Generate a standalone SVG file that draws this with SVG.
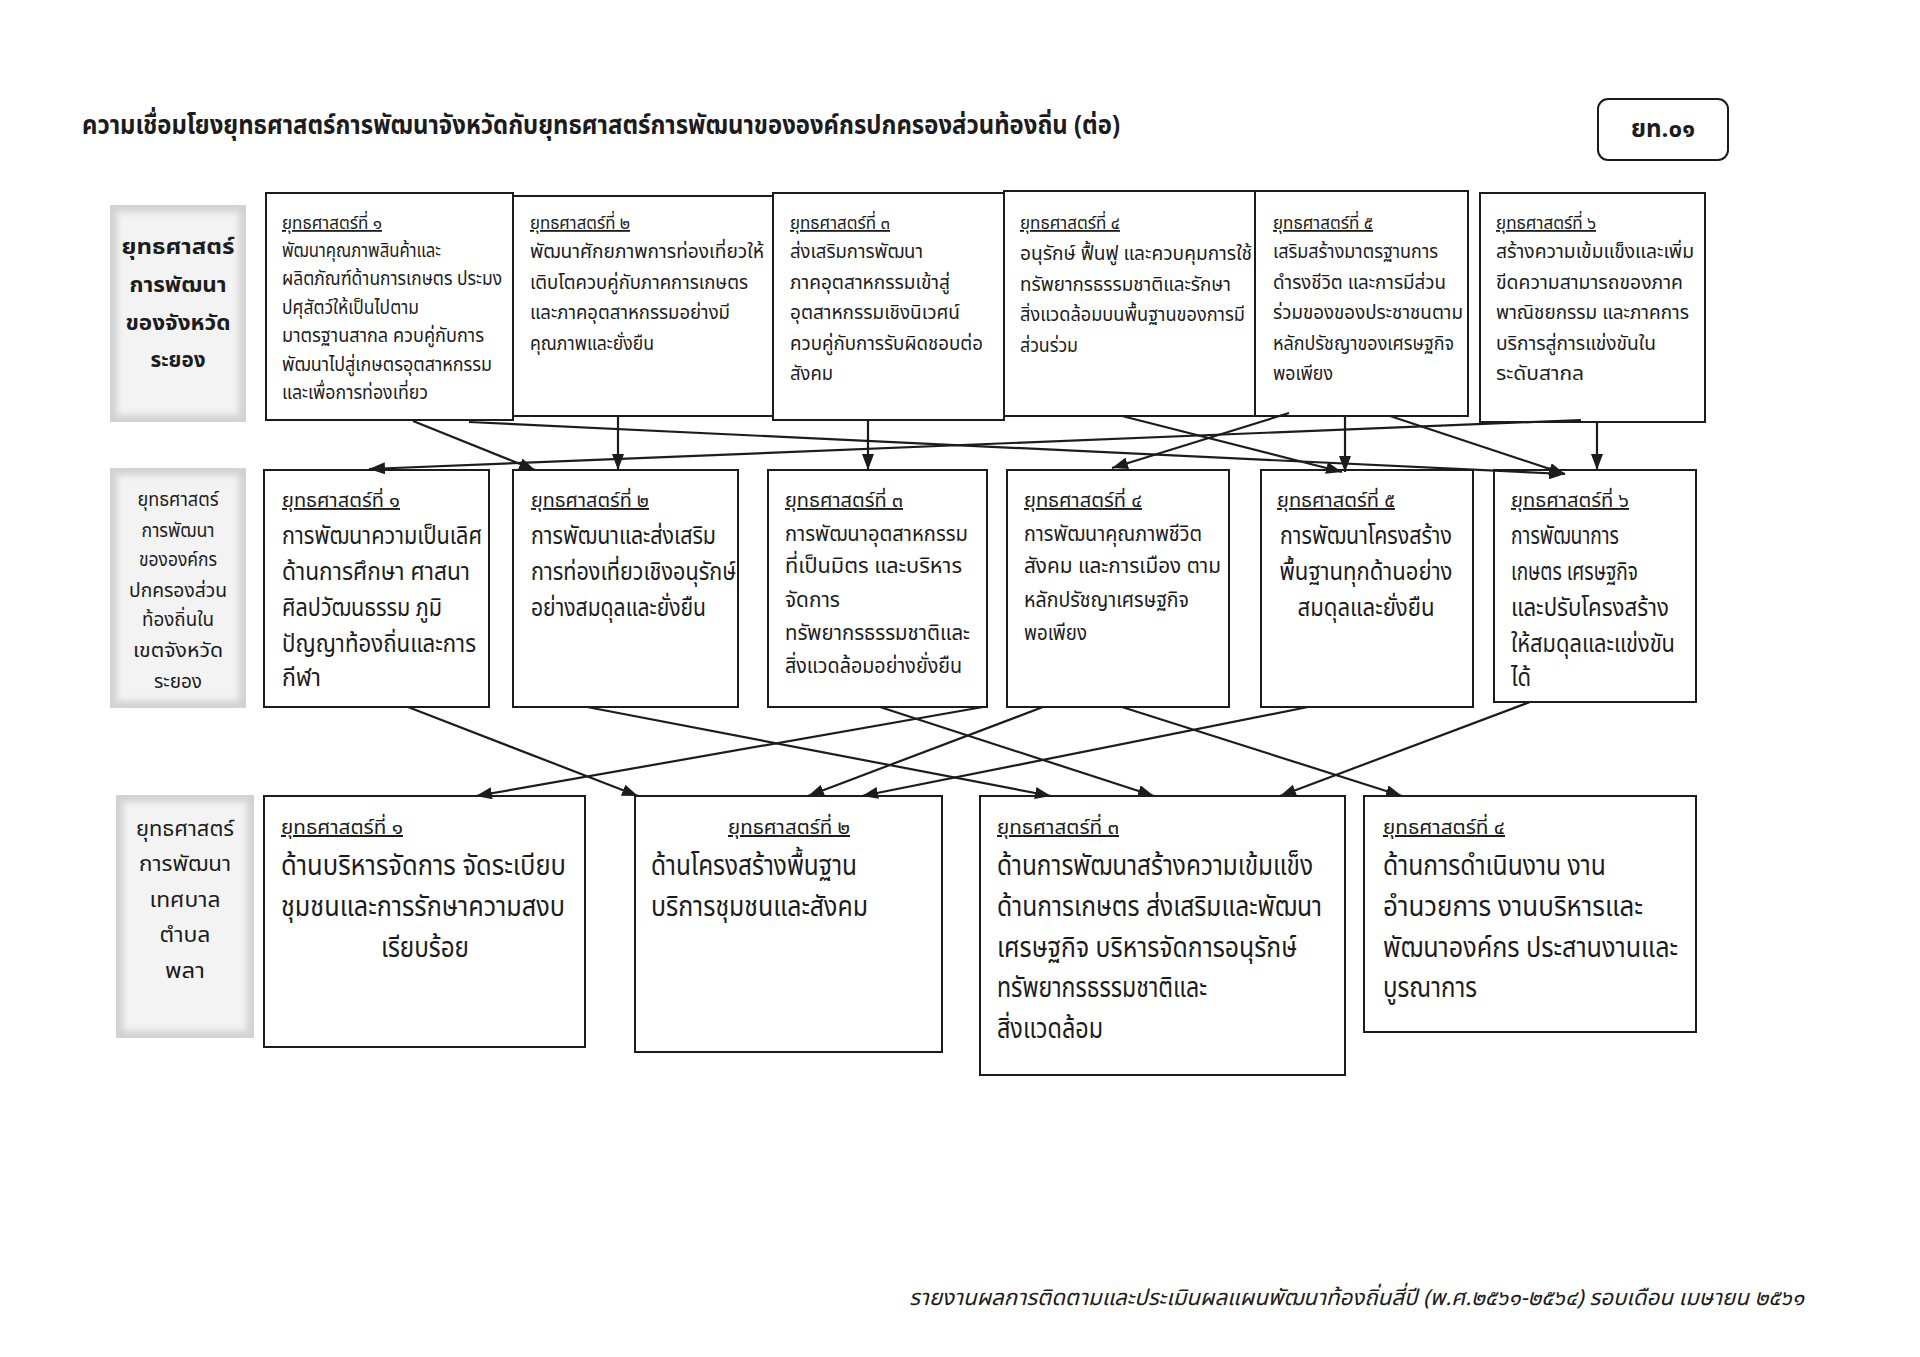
<svg xmlns="http://www.w3.org/2000/svg" width="1920" height="1357" viewBox="0 0 1920 1357">
<style>
text{font-family:'Noto Sans Thai','Noto Sans','DejaVu Sans',sans-serif;fill:#1c1c1c}
.box{fill:#fff;stroke:#1c1c1c;stroke-width:2}
.conn{stroke:#1c1c1c;stroke-width:2.2;fill:none;marker-end:url(#ah)}
.hd{text-decoration:underline}
.b1{font-size:19px}
.h1{font-size:18px}
.b2{font-size:24px}
.b2s{font-size:22px}
.h2{font-size:19px}
.b3{font-size:28px}
.h3{font-size:20px}
.lab1{font-size:22px;font-weight:bold}
.lab2{font-size:20px}
.lab3{font-size:22px}
.outer{fill:#d2d2d2}
.inner{fill:#f3f3f3;filter:url(#soft)}
</style>
<defs>
<marker id="ah" viewBox="0 0 16 12" refX="16" refY="6" markerWidth="16" markerHeight="12" markerUnits="userSpaceOnUse" orient="auto">
<path d="M0,0 L16,6 L0,12 z" fill="#1c1c1c"/>
</marker>
<filter id="soft" x="-10%" y="-10%" width="120%" height="120%"><feGaussianBlur stdDeviation="3"/></filter>
</defs>
<rect width="1920" height="1357" fill="#fff"/>

<g id="title">
<text x="82" y="134" font-size="26" font-weight="bold" textLength="1038" lengthAdjust="spacingAndGlyphs">ความเชื่อมโยงยุทธศาสตร์การพัฒนาจังหวัดกับยุทธศาสตร์การพัฒนาขององค์กรปกครองส่วนท้องถิ่น (ต่อ)</text>
</g>
<g id="badge">
<rect x="1598" y="99" width="130" height="61" rx="10" fill="#fff" stroke="#1c1c1c" stroke-width="2"/>
<text x="1663" y="137" font-size="24" font-weight="bold" text-anchor="middle" textLength="64" lengthAdjust="spacingAndGlyphs">ยท.๐๑</text>
</g>

<!-- Row labels -->
<g id="label-row1">
<rect class="outer" x="110" y="205" width="136" height="217"/>
<rect class="inner" x="117" y="212" width="122" height="203"/>
<text class="lab1" text-anchor="middle" x="178" y="254" textLength="113" lengthAdjust="spacingAndGlyphs">ยุทธศาสตร์</text>
<text class="lab1" text-anchor="middle" x="178" y="292" textLength="97" lengthAdjust="spacingAndGlyphs">การพัฒนา</text>
<text class="lab1" text-anchor="middle" x="178" y="330" textLength="105" lengthAdjust="spacingAndGlyphs">ของจังหวัด</text>
<text class="lab1" text-anchor="middle" x="178" y="367" textLength="55" lengthAdjust="spacingAndGlyphs">ระยอง</text>
</g>
<g id="label-row2">
<rect class="outer" x="110" y="468" width="136" height="240"/>
<rect class="inner" x="117" y="475" width="122" height="226"/>
<text class="lab2" text-anchor="middle" x="178" y="506" textLength="81" lengthAdjust="spacingAndGlyphs">ยุทธศาสตร์</text>
<text class="lab2" text-anchor="middle" x="178" y="537" textLength="73" lengthAdjust="spacingAndGlyphs">การพัฒนา</text>
<text class="lab2" text-anchor="middle" x="178" y="566" textLength="78" lengthAdjust="spacingAndGlyphs">ขององค์กร</text>
<text class="lab2" text-anchor="middle" x="178" y="597" textLength="98" lengthAdjust="spacingAndGlyphs">ปกครองส่วน</text>
<text class="lab2" text-anchor="middle" x="178" y="626" textLength="72" lengthAdjust="spacingAndGlyphs">ท้องถิ่นใน</text>
<text class="lab2" text-anchor="middle" x="178" y="657" textLength="90" lengthAdjust="spacingAndGlyphs">เขตจังหวัด</text>
<text class="lab2" text-anchor="middle" x="178" y="688" textLength="48" lengthAdjust="spacingAndGlyphs">ระยอง</text>
</g>
<g id="label-row3">
<rect class="outer" x="116" y="795" width="138" height="243"/>
<rect class="inner" x="123" y="802" width="124" height="229"/>
<text class="lab3" text-anchor="middle" x="185" y="836" textLength="98" lengthAdjust="spacingAndGlyphs">ยุทธศาสตร์</text>
<text class="lab3" text-anchor="middle" x="185" y="871" textLength="92" lengthAdjust="spacingAndGlyphs">การพัฒนา</text>
<text class="lab3" text-anchor="middle" x="185" y="907" textLength="71" lengthAdjust="spacingAndGlyphs">เทศบาล</text>
<text class="lab3" text-anchor="middle" x="185" y="942" textLength="51" lengthAdjust="spacingAndGlyphs">ตำบล</text>
<text class="lab3" text-anchor="middle" x="185" y="978" textLength="40" lengthAdjust="spacingAndGlyphs">พลา</text>
</g>

<!-- Row 1 : provincial strategies -->
<g id="p1">
<rect class="box" x="266" y="193" width="247" height="227"/>
<text class="h1 hd" x="282" y="229" textLength="100" lengthAdjust="spacingAndGlyphs">ยุทธศาสตร์ที่ ๑</text>
<text class="b1" x="282" y="257" textLength="159" lengthAdjust="spacingAndGlyphs">พัฒนาคุณภาพสินค้าและ</text>
<text class="b1" x="282" y="285.4" textLength="220" lengthAdjust="spacingAndGlyphs">ผลิตภัณฑ์ด้านการเกษตร ประมง</text>
<text class="b1" x="282" y="313.8" textLength="137" lengthAdjust="spacingAndGlyphs">ปศุสัตว์ให้เป็นไปตาม</text>
<text class="b1" x="282" y="342.2" textLength="202" lengthAdjust="spacingAndGlyphs">มาตรฐานสากล ควบคู่กับการ</text>
<text class="b1" x="282" y="370.6" textLength="210" lengthAdjust="spacingAndGlyphs">พัฒนาไปสู่เกษตรอุตสาหกรรม</text>
<text class="b1" x="282" y="399" textLength="146" lengthAdjust="spacingAndGlyphs">และเพื่อการท่องเที่ยว</text>
</g>
<g id="p2">
<rect class="box" x="513" y="196" width="260" height="220"/>
<text class="h1 hd" x="530" y="229" textLength="100" lengthAdjust="spacingAndGlyphs">ยุทธศาสตร์ที่ ๒</text>
<text class="b1" x="530" y="258" textLength="234" lengthAdjust="spacingAndGlyphs">พัฒนาศักยภาพการท่องเที่ยวให้</text>
<text class="b1" x="530" y="288.5" textLength="218" lengthAdjust="spacingAndGlyphs">เติบโตควบคู่กับภาคการเกษตร</text>
<text class="b1" x="530" y="319" textLength="200" lengthAdjust="spacingAndGlyphs">และภาคอุตสาหกรรมอย่างมี</text>
<text class="b1" x="530" y="349.5" textLength="124" lengthAdjust="spacingAndGlyphs">คุณภาพและยั่งยืน</text>
</g>
<g id="p3">
<rect class="box" x="773" y="193" width="231" height="227"/>
<text class="h1 hd" x="790" y="229" textLength="100" lengthAdjust="spacingAndGlyphs">ยุทธศาสตร์ที่ ๓</text>
<text class="b1" x="790" y="258" textLength="133" lengthAdjust="spacingAndGlyphs">ส่งเสริมการพัฒนา</text>
<text class="b1" x="790" y="288.5" textLength="160" lengthAdjust="spacingAndGlyphs">ภาคอุตสาหกรรมเข้าสู่</text>
<text class="b1" x="790" y="319" textLength="170" lengthAdjust="spacingAndGlyphs">อุตสาหกรรมเชิงนิเวศน์</text>
<text class="b1" x="790" y="349.5" textLength="193" lengthAdjust="spacingAndGlyphs">ควบคู่กับการรับผิดชอบต่อ</text>
<text class="b1" x="790" y="380" textLength="43" lengthAdjust="spacingAndGlyphs">สังคม</text>
</g>
<g id="p4">
<rect class="box" x="1004" y="191" width="251" height="225"/>
<text class="h1 hd" x="1020" y="229" textLength="100" lengthAdjust="spacingAndGlyphs">ยุทธศาสตร์ที่ ๔</text>
<text class="b1" x="1020" y="260" textLength="232" lengthAdjust="spacingAndGlyphs">อนุรักษ์ ฟื้นฟู และควบคุมการใช้</text>
<text class="b1" x="1020" y="290.5" textLength="211" lengthAdjust="spacingAndGlyphs">ทรัพยากรธรรมชาติและรักษา</text>
<text class="b1" x="1020" y="321" textLength="225" lengthAdjust="spacingAndGlyphs">สิ่งแวดล้อมบนพื้นฐานของการมี</text>
<text class="b1" x="1020" y="351.5" textLength="58" lengthAdjust="spacingAndGlyphs">ส่วนร่วม</text>
</g>
<g id="p5">
<rect class="box" x="1255" y="191" width="213" height="225"/>
<text class="h1 hd" x="1273" y="229" textLength="100" lengthAdjust="spacingAndGlyphs">ยุทธศาสตร์ที่ ๕</text>
<text class="b1" x="1273" y="258" textLength="165" lengthAdjust="spacingAndGlyphs">เสริมสร้างมาตรฐานการ</text>
<text class="b1" x="1273" y="288.5" textLength="173" lengthAdjust="spacingAndGlyphs">ดำรงชีวิต และการมีส่วน</text>
<text class="b1" x="1273" y="319" textLength="190" lengthAdjust="spacingAndGlyphs">ร่วมของของประชาชนตาม</text>
<text class="b1" x="1273" y="349.5" textLength="181" lengthAdjust="spacingAndGlyphs">หลักปรัชญาของเศรษฐกิจ</text>
<text class="b1" x="1273" y="380" textLength="60" lengthAdjust="spacingAndGlyphs">พอเพียง</text>
</g>
<g id="p6">
<rect class="box" x="1480" y="193" width="225" height="229"/>
<text class="h1 hd" x="1496" y="229" textLength="100" lengthAdjust="spacingAndGlyphs">ยุทธศาสตร์ที่ ๖</text>
<text class="b1" x="1496" y="258" textLength="198" lengthAdjust="spacingAndGlyphs">สร้างความเข้มแข็งและเพิ่ม</text>
<text class="b1" x="1496" y="288.5" textLength="187" lengthAdjust="spacingAndGlyphs">ขีดความสามารถของภาค</text>
<text class="b1" x="1496" y="319" textLength="193" lengthAdjust="spacingAndGlyphs">พาณิชยกรรม และภาคการ</text>
<text class="b1" x="1496" y="349.5" textLength="160" lengthAdjust="spacingAndGlyphs">บริการสู่การแข่งขันใน</text>
<text class="b1" x="1496" y="380" textLength="88" lengthAdjust="spacingAndGlyphs">ระดับสากล</text>
</g>

<!-- Row 2 : local government strategies -->
<g id="l1">
<rect class="box" x="264" y="470" width="225" height="237"/>
<text class="h2 hd" x="282" y="507" textLength="118" lengthAdjust="spacingAndGlyphs">ยุทธศาสตร์ที่ ๑</text>
<text class="b2" x="282" y="544" textLength="200" lengthAdjust="spacingAndGlyphs">การพัฒนาความเป็นเลิศ</text>
<text class="b2" x="282" y="580" textLength="188" lengthAdjust="spacingAndGlyphs">ด้านการศึกษา ศาสนา</text>
<text class="b2" x="282" y="616" textLength="160" lengthAdjust="spacingAndGlyphs">ศิลปวัฒนธรรม ภูมิ</text>
<text class="b2" x="282" y="652" textLength="194" lengthAdjust="spacingAndGlyphs">ปัญญาท้องถิ่นและการ</text>
<text class="b2" x="282" y="686" textLength="39" lengthAdjust="spacingAndGlyphs">กีฬา</text>
</g>
<g id="l2">
<rect class="box" x="513" y="470" width="225" height="237"/>
<text class="h2 hd" x="531" y="507" textLength="118" lengthAdjust="spacingAndGlyphs">ยุทธศาสตร์ที่ ๒</text>
<text class="b2" x="531" y="544" textLength="185" lengthAdjust="spacingAndGlyphs">การพัฒนาและส่งเสริม</text>
<text class="b2" x="531" y="580" textLength="205" lengthAdjust="spacingAndGlyphs">การท่องเที่ยวเชิงอนุรักษ์</text>
<text class="b2" x="531" y="616" textLength="175" lengthAdjust="spacingAndGlyphs">อย่างสมดุลและยั่งยืน</text>
</g>
<g id="l3">
<rect class="box" x="768" y="470" width="219" height="237"/>
<text class="h2 hd" x="785" y="507" textLength="118" lengthAdjust="spacingAndGlyphs">ยุทธศาสตร์ที่ ๓</text>
<text class="b2s" x="785" y="541" textLength="183" lengthAdjust="spacingAndGlyphs">การพัฒนาอุตสาหกรรม</text>
<text class="b2s" x="785" y="573" textLength="177" lengthAdjust="spacingAndGlyphs">ที่เป็นมิตร และบริหาร</text>
<text class="b2s" x="785" y="607" textLength="55" lengthAdjust="spacingAndGlyphs">จัดการ</text>
<text class="b2s" x="785" y="640" textLength="185" lengthAdjust="spacingAndGlyphs">ทรัพยากรธรรมชาติและ</text>
<text class="b2s" x="785" y="673" textLength="177" lengthAdjust="spacingAndGlyphs">สิ่งแวดล้อมอย่างยั่งยืน</text>
</g>
<g id="l4">
<rect class="box" x="1007" y="470" width="222" height="237"/>
<text class="h2 hd" x="1024" y="507" textLength="118" lengthAdjust="spacingAndGlyphs">ยุทธศาสตร์ที่ ๔</text>
<text class="b2s" x="1024" y="541" textLength="178" lengthAdjust="spacingAndGlyphs">การพัฒนาคุณภาพชีวิต</text>
<text class="b2s" x="1024" y="573" textLength="197" lengthAdjust="spacingAndGlyphs">สังคม  และการเมือง ตาม</text>
<text class="b2s" x="1024" y="607" textLength="165" lengthAdjust="spacingAndGlyphs">หลักปรัชญาเศรษฐกิจ</text>
<text class="b2s" x="1024" y="640" textLength="63" lengthAdjust="spacingAndGlyphs">พอเพียง</text>
</g>
<g id="l5">
<rect class="box" x="1261" y="470" width="212" height="237"/>
<text class="h2 hd" x="1277" y="507" textLength="118" lengthAdjust="spacingAndGlyphs">ยุทธศาสตร์ที่ ๕</text>
<text class="b2" x="1366" y="544" text-anchor="middle" textLength="172" lengthAdjust="spacingAndGlyphs">การพัฒนาโครงสร้าง</text>
<text class="b2" x="1366" y="580" text-anchor="middle" textLength="173" lengthAdjust="spacingAndGlyphs">พื้นฐานทุกด้านอย่าง</text>
<text class="b2" x="1366" y="616" text-anchor="middle" textLength="137" lengthAdjust="spacingAndGlyphs">สมดุลและยั่งยืน</text>
</g>
<g id="l6">
<rect class="box" x="1494" y="470" width="202" height="232"/>
<text class="h2 hd" x="1511" y="507" textLength="118" lengthAdjust="spacingAndGlyphs">ยุทธศาสตร์ที่ ๖</text>
<text class="b2" x="1511" y="544" textLength="108" lengthAdjust="spacingAndGlyphs">การพัฒนาการ</text>
<text class="b2" x="1511" y="580" textLength="127" lengthAdjust="spacingAndGlyphs">เกษตร เศรษฐกิจ</text>
<text class="b2" x="1511" y="616" textLength="158" lengthAdjust="spacingAndGlyphs">และปรับโครงสร้าง</text>
<text class="b2" x="1511" y="652" textLength="164" lengthAdjust="spacingAndGlyphs">ให้สมดุลและแข่งขัน</text>
<text class="b2" x="1511" y="686" textLength="20" lengthAdjust="spacingAndGlyphs">ได้</text>
</g>

<!-- Row 3 : municipality strategies -->
<g id="m1">
<rect class="box" x="264" y="796" width="321" height="251"/>
<text class="h3 hd" x="281" y="834" textLength="122" lengthAdjust="spacingAndGlyphs">ยุทธศาสตร์ที่ ๑</text>
<text class="b3" x="281" y="875" textLength="285" lengthAdjust="spacingAndGlyphs">ด้านบริหารจัดการ จัดระเบียบ</text>
<text class="b3" x="281" y="916" textLength="284" lengthAdjust="spacingAndGlyphs">ชุมชนและการรักษาความสงบ</text>
<text class="b3" x="425" y="957" text-anchor="middle" textLength="88" lengthAdjust="spacingAndGlyphs">เรียบร้อย</text>
</g>
<g id="m2">
<rect class="box" x="635" y="796" width="307" height="256"/>
<text class="h3 hd" x="789" y="834" text-anchor="middle" textLength="122" lengthAdjust="spacingAndGlyphs">ยุทธศาสตร์ที่ ๒</text>
<text class="b3" x="651" y="875" textLength="206" lengthAdjust="spacingAndGlyphs">ด้านโครงสร้างพื้นฐาน</text>
<text class="b3" x="651" y="916" textLength="217" lengthAdjust="spacingAndGlyphs">บริการชุมชนและสังคม</text>
</g>
<g id="m3">
<rect class="box" x="980" y="796" width="365" height="279"/>
<text class="h3 hd" x="997" y="834" textLength="122" lengthAdjust="spacingAndGlyphs">ยุทธศาสตร์ที่ ๓</text>
<text class="b3" x="997" y="875" textLength="316" lengthAdjust="spacingAndGlyphs">ด้านการพัฒนาสร้างความเข้มแข็ง</text>
<text class="b3" x="997" y="916" textLength="325" lengthAdjust="spacingAndGlyphs">ด้านการเกษตร ส่งเสริมและพัฒนา</text>
<text class="b3" x="997" y="957" textLength="300" lengthAdjust="spacingAndGlyphs">เศรษฐกิจ บริหารจัดการอนุรักษ์</text>
<text class="b3" x="997" y="997" textLength="210" lengthAdjust="spacingAndGlyphs">ทรัพยากรธรรมชาติและ</text>
<text class="b3" x="997" y="1038" textLength="106" lengthAdjust="spacingAndGlyphs">สิ่งแวดล้อม</text>
</g>
<g id="m4">
<rect class="box" x="1364" y="796" width="332" height="236"/>
<text class="h3 hd" x="1383" y="834" textLength="122" lengthAdjust="spacingAndGlyphs">ยุทธศาสตร์ที่ ๔</text>
<text class="b3" x="1383" y="875" textLength="223" lengthAdjust="spacingAndGlyphs">ด้านการดำเนินงาน งาน</text>
<text class="b3" x="1383" y="916" textLength="260" lengthAdjust="spacingAndGlyphs">อำนวยการ งานบริหารและ</text>
<text class="b3" x="1383" y="957" textLength="295" lengthAdjust="spacingAndGlyphs">พัฒนาองค์กร ประสานงานและ</text>
<text class="b3" x="1383" y="997" textLength="94" lengthAdjust="spacingAndGlyphs">บูรณาการ</text>
</g>

<!-- Connectors -->
<g id="connectors">
<line class="conn" x1="413" y1="421" x2="535" y2="470"/>
<line class="conn" x1="469" y1="422" x2="1565" y2="474"/>
<line class="conn" x1="618" y1="416" x2="618" y2="470"/>
<line class="conn" x1="868" y1="420" x2="868" y2="470"/>
<line class="conn" x1="1122" y1="416" x2="1342" y2="472"/>
<line class="conn" x1="1289" y1="413" x2="1112" y2="468"/>
<line class="conn" x1="1345" y1="416" x2="1345" y2="472"/>
<line class="conn" x1="1581" y1="420" x2="369" y2="469"/>
<line class="conn" x1="1597" y1="422" x2="1597" y2="470"/>
<line class="conn" x1="1390" y1="416" x2="1565" y2="474"/>

<line class="conn" x1="408" y1="707" x2="638" y2="796"/>
<line class="conn" x1="587" y1="707" x2="1051" y2="796"/>
<line class="conn" x1="983" y1="707" x2="476" y2="796"/>
<line class="conn" x1="880" y1="707" x2="1154" y2="796"/>
<line class="conn" x1="1043" y1="707" x2="808" y2="796"/>
<line class="conn" x1="1308" y1="707" x2="862" y2="796"/>
<line class="conn" x1="1122" y1="707" x2="1402" y2="796"/>
<line class="conn" x1="1530" y1="702" x2="1280" y2="796"/>
</g>

<g id="footer">
<text x="909" y="1305" font-size="22" font-style="italic" textLength="895" lengthAdjust="spacingAndGlyphs">รายงานผลการติดตามและประเมินผลแผนพัฒนาท้องถิ่นสี่ปี (พ.ศ.๒๕๖๑-๒๕๖๔) รอบเดือน เมษายน ๒๕๖๑</text>
</g>
</svg>
